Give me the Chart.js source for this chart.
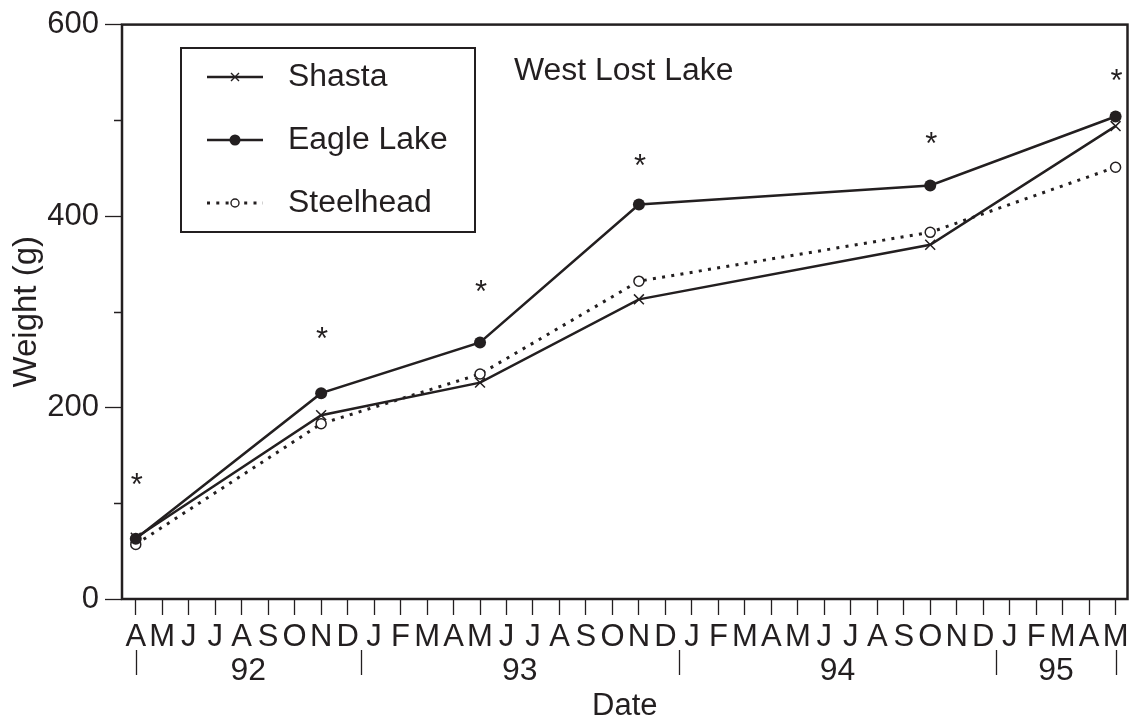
<!DOCTYPE html>
<html>
<head>
<meta charset="utf-8">
<script src="https://cdn.jsdelivr.net/npm/chart.js@4/dist/chart.umd.min.js"></script>
<style>
  body { margin: 0; background: #fff; }
  #wrap { width: 1136px; height: 723px; position: relative; }
</style>
</head>
<body>
<div id="wrap"><canvas id="weightChart"></canvas></div>
<script>
/* Months from Apr 92 to May 95, one tick each */
var monthLabels = ["A","M","J","J","A","S","O","N","D",
  "J","F","M","A","M","J","J","A","S","O","N","D",
  "J","F","M","A","M","J","J","A","S","O","N","D",
  "J","F","M","A","M"];

/* Year bands: separators sit between D and J */
var yearLabels = ["92", "93", "94", "95"];
var yearBounds = [0, 8.5, 20.5, 32.5, 37];

/* Sampling dates (month index from Apr 92) */
var sampleMonths = [0, 7, 13, 19, 30, 37];

/* Weight (g) per strain */
var shastaWeights = [64, 192, 226, 313, 370, 494];
var eagleWeights = [63, 215, 268, 412, 432, 504];
var steelheadWeights = [57, 183, 235, 332, 383, 451];

/* Height of the significance asterisks */
var starLevels = [127, 280, 329, 461, 484, 549];

var ink = "#231f20";
var fontFamily = "'Liberation Sans', Arial, Helvetica, sans-serif";

function toPoints(values) {
	var pts = [];
	for (var i = 0; i < values.length; i++) {
		pts.push({ x: sampleMonths[i], y: values[i] });
	}
	return pts;
}

// text is a touch wider than the font in the original
function wideText(ctx, text, x, y) {
	ctx.save();
	ctx.translate(x, y);
	ctx.scale(1.03, 1);
	ctx.fillText(text, 0, 0);
	ctx.restore();
}

var extrasPlugin = {
	id: "extras",
	afterDraw: function (chart) {
		var ctx = chart.ctx;
		var area = chart.chartArea;
		var xs = chart.scales.x;
		var ys = chart.scales.y;
		ctx.save();

		// frame
		ctx.strokeStyle = ink;
		ctx.lineWidth = 2.5;
		ctx.strokeRect(area.left, area.top, area.right - area.left, area.bottom - area.top);

		// minor y ticks
		ctx.lineWidth = 1.3;
		ctx.beginPath();
		for (var v = 100; v < 600; v += 200) {
			var py = Math.round(ys.getPixelForValue(v)) + 0.5;
			ctx.moveTo(area.left - 8, py);
			ctx.lineTo(area.left, py);
		}
		ctx.stroke();

		// year separators and labels
		ctx.fillStyle = ink;
		ctx.font = "31px " + fontFamily;
		ctx.textAlign = "center";
		ctx.textBaseline = "alphabetic";
		ctx.beginPath();
		for (var i = 0; i < yearBounds.length; i++) {
			var px = Math.round(xs.getPixelForValue(yearBounds[i])) + 0.5;
			ctx.moveTo(px, 650);
			ctx.lineTo(px, 675);
		}
		ctx.stroke();
		for (var j = 0; j < yearLabels.length; j++) {
			var mid = (yearBounds[j] + yearBounds[j + 1]) / 2;
			wideText(ctx, yearLabels[j], xs.getPixelForValue(mid), 680);
		}

		// asterisks
		for (var k = 0; k < sampleMonths.length; k++) {
			ctx.fillText("*", xs.getPixelForValue(sampleMonths[k]) + 1, ys.getPixelForValue(starLevels[k]) + 18);
		}

		// panel title
		ctx.textAlign = "left";
		wideText(ctx, "West Lost Lake", 514, 80);

		// legend
		ctx.lineWidth = 2;
		ctx.strokeRect(181, 48, 294, 184);
		var rows = [77, 140, 203];
		var names = ["Shasta", "Eagle Lake", "Steelhead"];
		ctx.textBaseline = "middle";
		for (var r = 0; r < rows.length; r++) {
			var ly = rows[r];
			ctx.lineWidth = r == 2 ? 2.8 : 2.3;
			ctx.setLineDash(r == 2 ? [3, 6.3] : []);
			ctx.beginPath();
			ctx.moveTo(207, ly);
			ctx.lineTo(263, ly);
			ctx.stroke();
			ctx.setLineDash([]);
			if (r == 0) {
				ctx.lineWidth = 1.4;
				ctx.beginPath();
				ctx.moveTo(231, ly - 4); ctx.lineTo(239, ly + 4);
				ctx.moveTo(231, ly + 4); ctx.lineTo(239, ly - 4);
				ctx.stroke();
			} else if (r == 1) {
				ctx.beginPath();
				ctx.arc(235, ly, 5.5, 0, Math.PI * 2);
				ctx.fill();
			} else {
				ctx.fillStyle = "#fff";
				ctx.fillRect(229, ly - 5, 12, 10);
				ctx.fillStyle = ink;
				ctx.lineWidth = 1.4;
				ctx.beginPath();
				ctx.arc(235, ly, 4, 0, Math.PI * 2);
				ctx.stroke();
			}
			wideText(ctx, names[r], 288, ly);
		}
		ctx.restore();
	}
};

Chart.defaults.font.family = fontFamily;
Chart.defaults.color = ink;

var ctx = document.getElementById("weightChart").getContext("2d");
var myChart = new Chart(ctx, {
	type: "line",
	data: {
		datasets: [
			{
				label: "Shasta",
				data: toPoints(shastaWeights),
				borderColor: ink,
				borderWidth: 2.5,
				pointStyle: "crossRot",
				pointRadius: 7,
				pointBorderWidth: 1.5,
				pointBorderColor: ink,
				tension: 0
			},
			{
				label: "Eagle Lake",
				data: toPoints(eagleWeights),
				borderColor: ink,
				borderWidth: 2.5,
				pointStyle: "circle",
				pointRadius: 6,
				pointBackgroundColor: ink,
				pointBorderColor: ink,
				pointBorderWidth: 0,
				tension: 0
			},
			{
				label: "Steelhead",
				data: toPoints(steelheadWeights),
				borderColor: ink,
				borderWidth: 3,
				borderDash: [3, 6.3],
				pointStyle: "circle",
				pointRadius: 5,
				pointBackgroundColor: "#fff",
				pointBorderColor: ink,
				pointBorderWidth: 1.5,
				tension: 0
			}
		]
	},
	options: {
		responsive: true,
		maintainAspectRatio: false,
		animation: false,
		layout: { padding: { top: 23, right: 7, left: 0, bottom: 0 } },
		plugins: {
			legend: { display: false },
			tooltip: { enabled: false }
		},
		scales: {
			x: {
				type: "linear",
				min: -0.52,
				max: 37.45,
				border: { display: false },
				grid: {
					drawOnChartArea: false,
					tickLength: 16,
					tickWidth: 1.3,
					tickColor: ink
				},
				ticks: {
					autoSkip: false,
					maxRotation: 0,
					minRotation: 0,
					padding: 4,
					font: { size: 31 },
					color: ink,
					callback: function (value) {
						return monthLabels[value];
					}
				},
				afterBuildTicks: function (scale) {
					var t = [];
					for (var i = 0; i < monthLabels.length; i++) {
						t.push({ value: i });
					}
					scale.ticks = t;
				},
				afterFit: function (scale) {
					scale.height = 124;
				},
				title: {
					display: true,
					text: "Date",
					font: { size: 31, lineHeight: 1 },
					color: ink,
					padding: { top: 0, bottom: 1.5 }
				}
			},
			y: {
				min: 0,
				max: 600,
				border: { display: false },
				grid: {
					drawOnChartArea: false,
					tickLength: 17,
					tickWidth: 1.3,
					tickColor: function (c) {
						return c.tick && c.tick.value % 200 == 0 ? ink : "rgba(0,0,0,0)";
					}
				},
				ticks: {
					stepSize: 100,
					padding: 6,
					font: { size: 31 },
					color: ink,
					callback: function (value) {
						return value % 200 == 0 ? value : "";
					}
				},
				afterFit: function (scale) {
					scale.width = 122;
				},
				title: {
					display: true,
					text: "Weight (g)",
					font: { size: 33, lineHeight: 1.2 },
					color: ink,
					padding: { top: 7, bottom: 0 }
				}
			}
		}
	},
	plugins: [extrasPlugin]
});
</script>
</body>
</html>
